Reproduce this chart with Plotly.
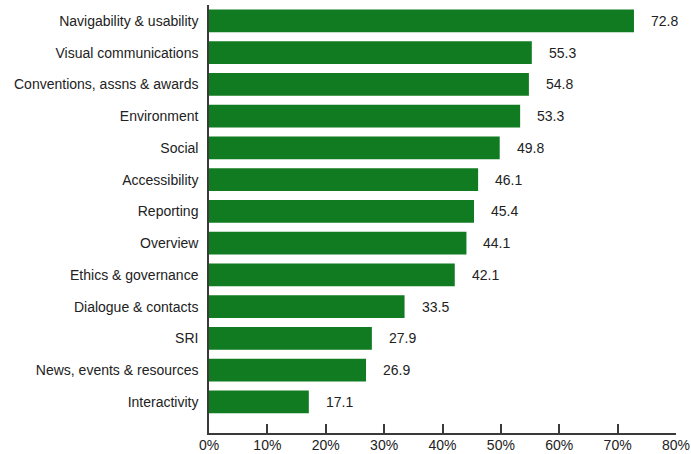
import plotly.graph_objects as go

categories = [
    "Navigability & usability",
    "Visual communications",
    "Conventions, assns & awards",
    "Environment",
    "Social",
    "Accessibility",
    "Reporting",
    "Overview",
    "Ethics & governance",
    "Dialogue & contacts",
    "SRI",
    "News, events & resources",
    "Interactivity",
]
values = [72.8, 55.3, 54.8, 53.3, 49.8, 46.1, 45.4, 44.1, 42.1, 33.5, 27.9, 26.9, 17.1]
x_ticks = [0, 10, 20, 30, 40, 50, 60, 70, 80]
x_tick_labels = ["0%", "10%", "20%", "30%", "40%", "50%", "60%", "70%", "80%"]

FONT = "Liberation Sans, Arial, sans-serif"
BAR = "#107B20"
AXIS = "#3a3a3a"

fig = go.Figure()
fig.add_trace(go.Bar(
    x=values, y=categories, orientation="h",
    marker=dict(color=BAR, line=dict(width=0)),
    hoverinfo="x+y",
))

for c, v in zip(categories, values):
    fig.add_annotation(
        x=v, y=c, text=f"{v:.1f}", showarrow=False,
        xanchor="left", yanchor="middle", xshift=15,
        font=dict(family=FONT, size=14, color="#222222"),
    )

fig.update_layout(
    width=691, height=454,
    margin=dict(l=209, r=15, t=5, b=21, autoexpand=False),
    paper_bgcolor="white", plot_bgcolor="white",
    bargap=0.28,
    showlegend=False,
    font=dict(family=FONT, size=14, color="#222222"),
    xaxis=dict(
        range=[0, 80], tickvals=x_ticks, ticktext=x_tick_labels,
        showgrid=False, zeroline=False,
        showline=True, linecolor=AXIS, linewidth=1.5,
        ticks="inside", ticklen=9, tickwidth=1.5, tickcolor=AXIS,
        ticklabelstandoff=-2,
        tickfont=dict(family=FONT, size=14, color="#222222"),
        automargin=False, fixedrange=True,
    ),
    yaxis=dict(
        categoryorder="array", categoryarray=categories[::-1],
        range=[-0.98, 12.5],
        showgrid=False, zeroline=False,
        showline=True, linecolor=AXIS, linewidth=1.5,
        ticks="", ticklabelstandoff=6,
        tickfont=dict(family=FONT, size=14, color="#222222"),
        automargin=False, fixedrange=True,
    ),
)

fig.write_html(
    "out.html",
    config={"displayModeBar": False},
    post_script="document.body.style.margin='0';document.body.style.padding='0';",
)
